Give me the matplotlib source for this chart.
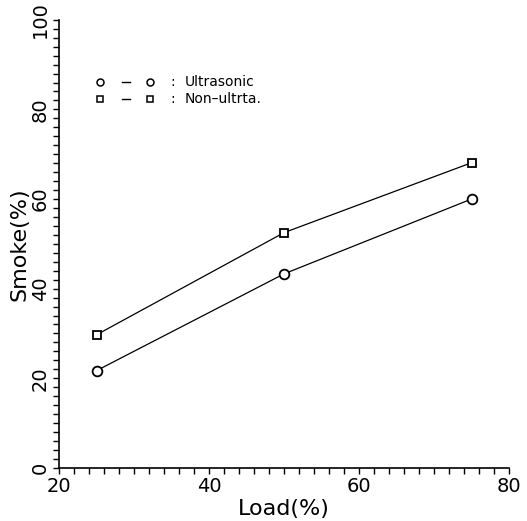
import matplotlib
matplotlib.use("Agg")
import matplotlib.pyplot as plt
from matplotlib.ticker import MultipleLocator

load = [25, 50, 75]
ultrasonic = [21.7, 43.3, 60.0]
non_ultra = [29.7, 52.5, 68.1]
x_ticks = [20, 40, 60, 80]
y_ticks = [0, 20, 40, 60, 80, 100]
legend_labels = ['Ultrasonic', 'Non\u2013ultrta.']

fig = plt.figure(figsize=(5.27, 5.21), dpi=100)
ax = fig.add_axes([0.112, 0.102, 0.854, 0.860])

ax.plot(load, non_ultra, color='black', lw=0.9, marker='s', ms=6,
        mfc='white', mec='black', mew=1.3)
ax.plot(load, ultrasonic, color='black', lw=0.9, marker='o', ms=7,
        mfc='white', mec='black', mew=1.3)

ax.set_xlim(20, 80)
ax.set_ylim(0, 100)
ax.set_xticks(x_ticks)
ax.set_yticks(y_ticks)
ax.xaxis.set_minor_locator(MultipleLocator(2))
ax.yaxis.set_minor_locator(MultipleLocator(2))
ax.tick_params(which='both', direction='out', length=4.5, width=1, color='black')
ax.tick_params(axis='both', labelsize=14, pad=2)
for lbl in ax.get_yticklabels():
    lbl.set_rotation(90)
    lbl.set_va('center')

ax.spines['top'].set_visible(False)
ax.spines['right'].set_visible(False)
ax.spines['left'].set_linewidth(1.2)
ax.spines['bottom'].set_linewidth(1.2)

ax.set_xlabel('Load(%)', fontsize=16, labelpad=2)
ax.set_ylabel('Smoke(%)', fontsize=16, labelpad=1)

# hand-drawn style legend
rows = [(0.862, 'o', legend_labels[0]), (0.824, 's', legend_labels[1])]
for yy, mk, lab in rows:
    ax.plot([0.091, 0.202], [yy, yy], linestyle='none', marker=mk, ms=5,
            mfc='white', mec='black', mew=1.1, transform=ax.transAxes, clip_on=False)
    ax.plot([0.140, 0.158], [yy, yy], color='black', lw=1.0, transform=ax.transAxes)
    ax.text(0.253, yy, ':', transform=ax.transAxes, fontsize=10, va='center', ha='center')
    ax.text(0.280, yy, lab, transform=ax.transAxes, fontsize=10, va='center', ha='left')

fig.savefig('out.png', dpi=100)
